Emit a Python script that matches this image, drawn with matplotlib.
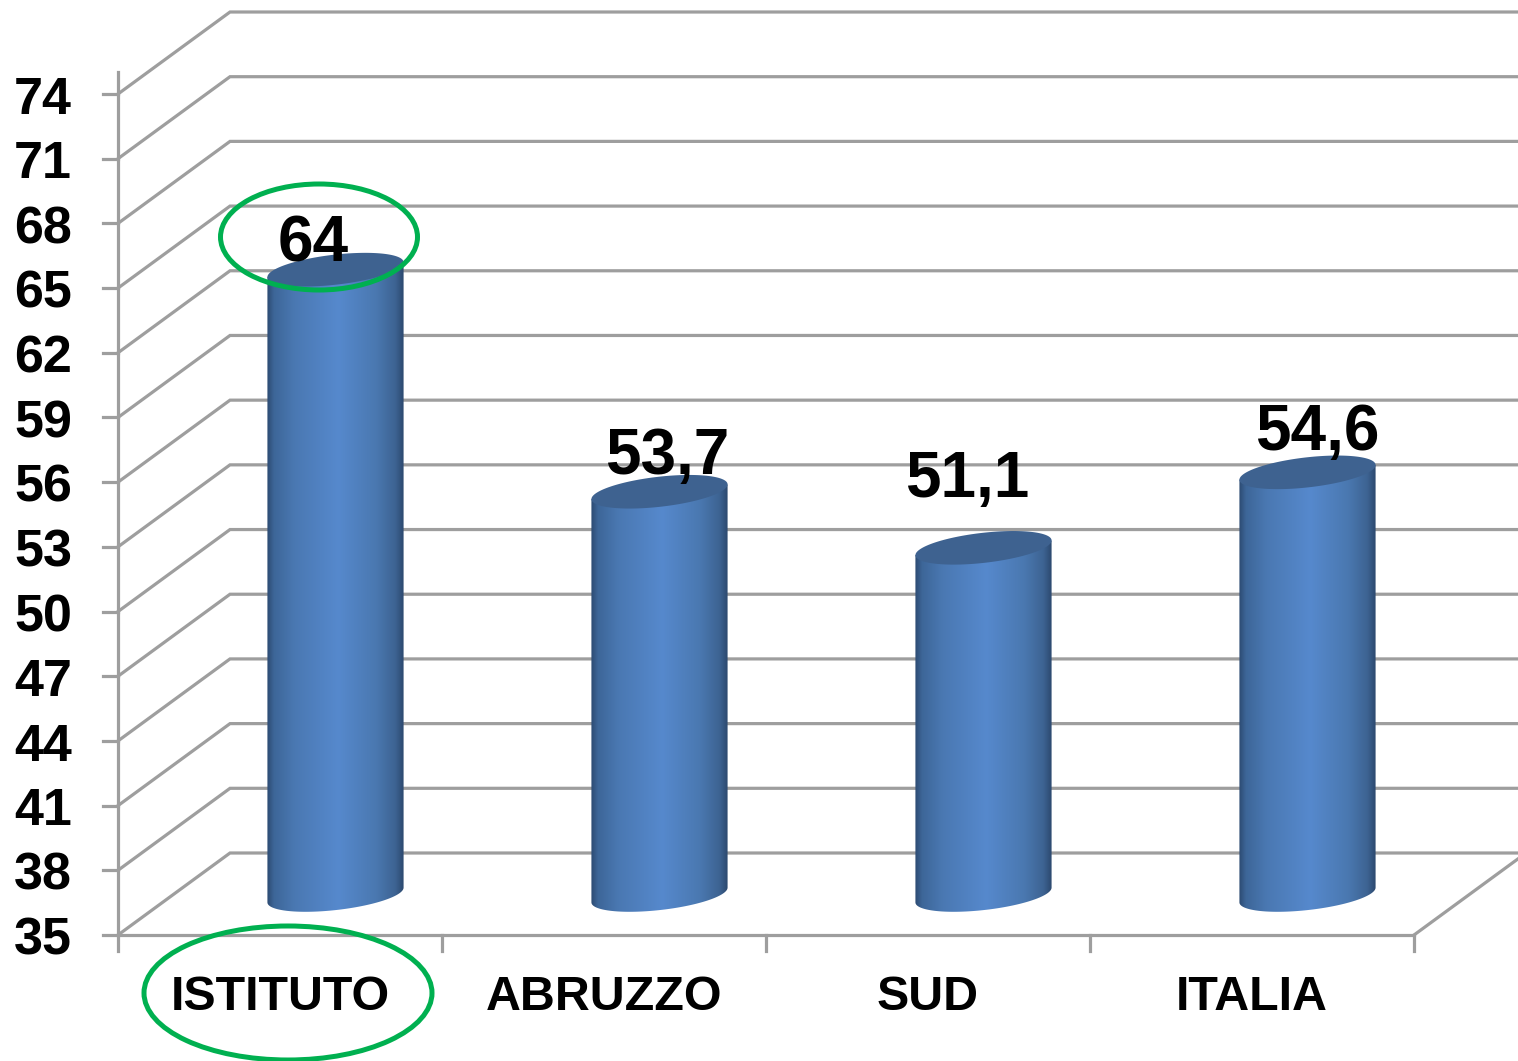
import numpy as np
import matplotlib.pyplot as plt
from matplotlib.colors import LinearSegmentedColormap
from matplotlib.patches import Ellipse, PathPatch, Polygon
from matplotlib.path import Path

plt.rcParams.update({
    "font.family": ["Liberation Sans", "DejaVu Sans"],
    "font.weight": "bold",
})

categories = ["ISTITUTO", "ABRUZZO", "SUD", "ITALIA"]
values = [64, 53.7, 51.1, 54.6]
value_labels = ["64", "53,7", "51,1", "54,6"]
y_ticks = [35, 38, 41, 44, 47, 50, 53, 56, 59, 62, 65, 68, 71, 74]

# Scale of the picture: pixels per category and per unit of value
W, H = 1518, 1061
PX_CAT = 324.0
PX_VAL = 841.0 / 39.0
X0, Y0 = 118.0, 935.0

# Fake 3D depth, in pixels
DEPTH_X, DEPTH_Y = 112.0, 82.0

GREY = "#9e9e9e"
GREEN = "#00b050"
CAP = "#3e6290"
LW = 2.3

# Manual label positions, in pixels, as on the original slide
label_px = [(313, 244), (667, 457), (967, 480), (1317, 433)]
cat_px = [(280, 997), (604, 997), (928, 997), (1252, 997)]
tick_label_x = 43


def px_x(px):
    return (px - X0) / PX_CAT


def px_y(py):
    return y_ticks[0] + (Y0 - py) / PX_VAL


fig = plt.figure(figsize=(W / 100, H / 100), dpi=100, facecolor="white")
ax = fig.add_axes([0, 0, 1, 1])
ax.set_xlim(px_x(0), px_x(W))
ax.set_ylim(px_y(H), px_y(0))
ax.axis("off")

dx = DEPTH_X / PX_CAT
dy = DEPTH_Y / PX_VAL
n = len(categories)

# Gridlines: diagonal on the side wall, then along the back wall
for v in y_ticks:
    ax.plot([0, dx, px_x(W)], [v, v + dy, v + dy], color=GREY, lw=LW, zorder=1,
            solid_joinstyle="miter")
    ax.plot([px_x(103), 0], [v, v], color=GREY, lw=LW, zorder=1)
    ax.text(px_x(tick_label_x), v - 4 / PX_VAL - 0.1, str(v), ha="center", va="center",
            fontsize=37.5, color="black", zorder=6)

# Axis lines and floor
ax.plot([0, 0], [px_y(951), 75], color=GREY, lw=LW, zorder=1)
ax.plot([0, n], [y_ticks[0], y_ticks[0]], color=GREY, lw=LW, zorder=1)
ax.plot([n, n + dx], [y_ticks[0], y_ticks[0] + dy], color=GREY, lw=LW, zorder=1)
for i in range(1, n + 1):
    ax.plot([i, i], [y_ticks[0], px_y(951)], color=GREY, lw=LW, zorder=1)

# Cylinders
cmap = LinearSegmentedColormap.from_list(
    "cyl", [(0, "#2c4a72"), (0.05, "#3d6698"), (0.2, "#4a78b2"), (0.52, "#5689cd"),
            (0.8, "#4a78b0"), (0.94, "#3d6392"), (1, "#2c486e")])
grad = np.linspace(0, 1, 256).reshape(1, -1)
t = np.linspace(0, 2 * np.pi, 181)[:-1]
A, B, TILT = 68.5, 15.0, np.radians(6.5)


def ellipse_xy(xc, v):
    ex = A * np.cos(t) * np.cos(TILT) - B * np.sin(t) * np.sin(TILT)
    ey = A * np.cos(t) * np.sin(TILT) + B * np.sin(t) * np.cos(TILT)
    return xc + ex / PX_CAT, v + ey / PX_VAL


for i, v in enumerate(values):
    xc = i + 0.5 + dx / 2 - 0.5 / PX_CAT
    base = y_ticks[0] + dy / 2 - 1 / PX_VAL
    top = v + dy / 2 - 1 / PX_VAL

    bx, by = ellipse_xy(xc, base)
    tx, ty = ellipse_xy(xc, top)
    left, right = np.argmin(bx), np.argmax(bx)
    # lower arc of the base, walking from the left end to the right end
    idx = np.arange(left, left + len(t) + 1) % len(t)
    idx = idx[:np.where(idx == right)[0][0] + 1]
    body = list(zip(bx[idx], by[idx])) + [(tx[right], ty[right]), (tx[left], ty[left])]

    clip = PathPatch(Path(body + [body[0]]), transform=ax.transData,
                     facecolor="none", edgecolor="none")
    ax.add_patch(clip)
    im = ax.imshow(grad, cmap=cmap, aspect="auto", zorder=3, interpolation="bilinear",
                   extent=[bx[left], bx[right], base - 40 / PX_VAL, top + 40 / PX_VAL])
    im.set_clip_path(clip)
    ax.add_patch(Polygon(np.column_stack([tx, ty]), closed=True, facecolor=CAP,
                         edgecolor="none", zorder=4))

ax.set_xlim(px_x(0), px_x(W))
ax.set_ylim(px_y(H), px_y(0))

# Value labels
for lab, (lx, ly) in zip(value_labels, label_px):
    ax.text(px_x(lx), px_y(ly), lab, ha="center", va="center", fontsize=46,
            color="black", zorder=6)

# Category labels
for cat, (lx, ly) in zip(categories, cat_px):
    ax.text(px_x(lx), px_y(ly), cat, ha="center", va="center", fontsize=34.8,
            color="black", zorder=6)

# Green hand-drawn highlights
ax.add_patch(Ellipse((px_x(319), px_y(237)), 197 / PX_CAT, 106 / PX_VAL, fill=False,
                     edgecolor=GREEN, lw=3.6, zorder=7))
ax.add_patch(Ellipse((px_x(288), px_y(993)), 288 / PX_CAT, 134 / PX_VAL, fill=False,
                     edgecolor=GREEN, lw=3.6, zorder=7, clip_on=False))

fig.savefig("out.png", dpi=100, facecolor="white")
plt.close(fig)
